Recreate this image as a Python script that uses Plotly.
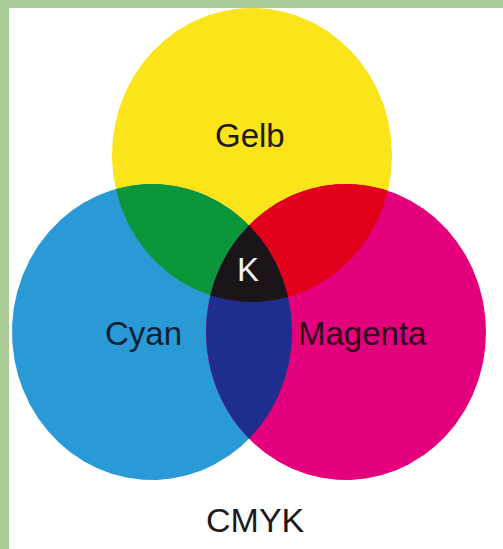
import numpy as np
import plotly.graph_objects as go

# ---- data ----
set_names = ["Gelb", "Cyan", "Magenta"]
set_cx = [252, 152, 346]
set_cy = [155, 332, 332]
set_rx = [140, 140, 140]
set_ry = [147, 148, 148]
set_colors = ["#FCE41B", "#2A9AD6", "#E4007D"]

overlap_sets = [(0, 1), (0, 2), (1, 2), (0, 1, 2)]
overlap_colors = ["#0C963A", "#E2001A", "#1F2E8C", "#1B1419"]

label_text = ["Gelb", "Cyan", "Magenta", "K"]
label_x = [250, 143, 362, 248]
label_y = [135, 333, 333, 269]
label_colors = ["#1e1a0a", "#0d1f33", "#2a0618", "#f2f2f2"]
title_text = "CMYK"


def ellipse_poly(cx, cy, rx, ry, n=720):
    t = np.linspace(0, 2 * np.pi, n, endpoint=False)
    return list(zip(cx + rx * np.cos(t), cy + ry * np.sin(t)))


def clip(subject, clipper):
    # Sutherland-Hodgman for convex clipper
    def inside(p, a, b, s):
        return s * ((b[0] - a[0]) * (p[1] - a[1]) - (b[1] - a[1]) * (p[0] - a[0])) >= 0

    def inter(p1, p2, a, b):
        x1, y1 = p1; x2, y2 = p2; x3, y3 = a; x4, y4 = b
        d = (x1 - x2) * (y3 - y4) - (y1 - y2) * (x3 - x4)
        t = ((x1 - x3) * (y3 - y4) - (y1 - y3) * (x3 - x4)) / d
        return (x1 + t * (x2 - x1), y1 + t * (y2 - y1))

    n = len(clipper)
    area = sum(clipper[i][0] * clipper[(i + 1) % n][1] - clipper[(i + 1) % n][0] * clipper[i][1]
               for i in range(n))
    s = 1 if area > 0 else -1
    out = subject
    for i in range(n):
        a = clipper[i]; b = clipper[(i + 1) % n]
        inp = out
        out = []
        if not inp:
            break
        prev = inp[-1]
        for cur in inp:
            if inside(cur, a, b, s):
                if not inside(prev, a, b, s):
                    out.append(inter(prev, cur, a, b))
                out.append(cur)
            elif inside(prev, a, b, s):
                out.append(inter(prev, cur, a, b))
            prev = cur
    return out


polys = [ellipse_poly(set_cx[i], set_cy[i], set_rx[i], set_ry[i]) for i in range(3)]

fig = go.Figure()


def add_poly(p, color, name):
    xs = [q[0] for q in p] + [p[0][0]]
    ys = [q[1] for q in p] + [p[0][1]]
    fig.add_trace(go.Scatter(x=xs, y=ys, mode="lines", fill="toself", fillcolor=color,
                             line=dict(width=0, color=color), hoverinfo="skip", name=name,
                             showlegend=False))


for i in range(3):
    add_poly(polys[i], set_colors[i], set_names[i])

for sets, col in zip(overlap_sets, overlap_colors):
    p = polys[sets[0]]
    for k in sets[1:]:
        p = clip(p, polys[k])
    add_poly(p, col, "+".join(set_names[k] for k in sets))

for t, x, y, c in zip(label_text, label_x, label_y, label_colors):
    fig.add_annotation(x=x, y=y, text=t, showarrow=False, xanchor="center", yanchor="middle",
                       font=dict(family="Liberation Sans, Arial", size=33, color=c))

fig.add_annotation(x=255, y=520, text=title_text, showarrow=False, xanchor="center", yanchor="middle",
                   font=dict(family="Liberation Sans, Arial", size=34, color="#1a1a1a"))

fig.update_layout(
    width=503, height=549,
    margin=dict(l=9, t=8, r=0, b=0),
    paper_bgcolor="#AACD98",
    plot_bgcolor="#FFFFFF",
    xaxis=dict(range=[9, 503], visible=False, fixedrange=True),
    yaxis=dict(range=[549, 8], visible=False, fixedrange=True),
    showlegend=False,
)

fig.write_html("out.html", config={"displayModeBar": False},
               post_script="document.body.style.margin='0';document.body.style.overflow='hidden';")
